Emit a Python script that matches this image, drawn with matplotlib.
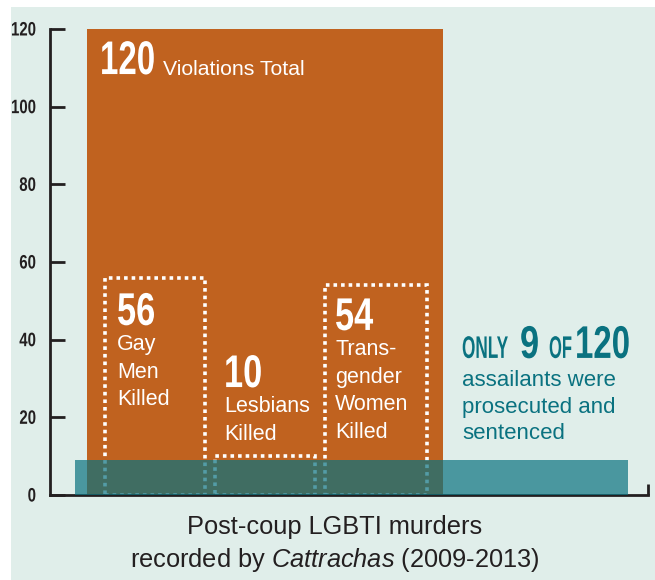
import matplotlib.pyplot as plt
from matplotlib.patches import Rectangle
from matplotlib.patheffects import AbstractPathEffect
from matplotlib.text import Text
from matplotlib.transforms import Affine2D, Bbox

# values
total = 120
sentenced = 9
groups = ['Gay\nMen\nKilled', 'Lesbians\nKilled', 'Trans-\ngender\nWomen\nKilled']
killed = [56, 10, 54]
yticks = [0, 20, 40, 60, 80, 100, 120]

orange = '#c0621f'
teal = '#0a7280'
mint = '#e0eeea'
dark = '#231f20'
plt.rcParams['mathtext.fontset'] = 'custom'
plt.rcParams['mathtext.rm'] = 'Liberation Sans'
plt.rcParams['mathtext.it'] = 'Liberation Sans:italic'
bold = dict(family=['Liberation Sans', 'DejaVu Sans'], fontweight='bold')
plain = dict(family=['Liberation Sans', 'DejaVu Sans'])


class Squeeze(AbstractPathEffect):
    # narrow the glyphs horizontally (no condensed font installed)
    def __init__(self, sx, anchor='left'):
        super().__init__()
        self.sx = sx
        self.anchor = anchor

    def draw_path(self, renderer, gc, tpath, affine, rgbFace=None):
        x0 = tpath.get_extents().x1 if self.anchor == 'right' else 0
        t = Affine2D().translate(-x0, 0).scale(self.sx, 1).translate(x0, 0) + affine
        renderer.draw_path(gc, tpath, t, rgbFace)


class Narrow(Text):
    # left-aligned text drawn condensed, with an extent that matches the ink
    def __init__(self, x, y, s, sx=0.7, **kw):
        super().__init__(x, y, s, **kw)
        self.sx = sx
        self.set_path_effects([Squeeze(sx)])

    def get_window_extent(self, renderer=None, dpi=None):
        bb = super().get_window_extent(renderer, dpi)
        return Bbox([[bb.x0, bb.y0], [bb.x0 + bb.width * self.sx, bb.y1]])


def narrow(ax, x, y, s, sx, **kw):
    t = Narrow(x, y, s, sx=sx, va='baseline', **bold, **kw)
    ax._add_text(t)
    return t


fig = plt.figure(figsize=(6.55, 5.8), dpi=100, facecolor='white')
fig.patches.append(Rectangle((11/655, 0), 1, 573/580, transform=fig.transFigure,
                             facecolor=mint, edgecolor='none', zorder=-5))
ax = fig.add_axes([50/655, 85/580, 598/655, 466/580])
ax.set_facecolor('none')

# x runs in pixel-like units across the axis (0..598)
ax.bar(215, total, width=356, color=orange, zorder=1)
centres = [105, 215, 326]
widths = [100, 100, 102]
ax.bar(centres, killed, width=widths, fill=False, edgecolor='white', linewidth=2.6,
       linestyle=(0, (1, 1.1)), zorder=2)
ax.bar(301.5, sentenced, width=553, color=teal, alpha=0.7, zorder=3)

ax.set_xlim(0, 598)
ax.set_ylim(0, 120)
ax.set_yticks(yticks)
ax.set_xticks([598])
ax.set_xticklabels([''])
ax.tick_params(axis='y', direction='in', length=11, width=2, color=dark, pad=10,
               labelsize=14, labelcolor=dark)
ax.tick_params(axis='x', direction='in', length=8, width=2, color=dark)
for lab in ax.get_yticklabels():
    lab.set(**bold)
    lab.set_path_effects([Squeeze(0.77, 'right')])
for s in ['top', 'right']:
    ax.spines[s].set_visible(False)
for s in ['left', 'bottom']:
    ax.spines[s].set_linewidth(2)
    ax.spines[s].set_color(dark)

# total label
narrow(ax, 50, 108.4, str(total), 0.7, color='white', fontsize=34)
ax.text(113, 108.2, 'Violations Total', color='white', fontsize=15.3, va='baseline', **plain)

# group labels
num_y = [43.8, 27.8, 42.5]
num_x = [67, 174, 285]
for x, y, n, g in zip(num_x, num_y, killed, groups):
    narrow(ax, x, y, str(n), 0.75, color='white', fontsize=33)
    ax.text(x, y - 2.3, g, color='white', fontsize=15.5, va='top', linespacing=1.42, **plain)

# callout
narrow(ax, 412, 35.3, 'ONLY', 0.55, color=teal, fontsize=22.5)
narrow(ax, 470, 35.3, str(sentenced), 0.75, color=teal, fontsize=33)
narrow(ax, 499, 35.3, 'OF', 0.53, color=teal, fontsize=22.5)
narrow(ax, 525, 35.3, str(total), 0.72, color=teal, fontsize=33)
ax.text(412, 32.2, 'assailants were\nprosecuted and\nsentenced', color=teal, fontsize=16,
        va='top', linespacing=1.35, **plain)

# caption
fig.text(335/655, 1 - 527/580, 'Post-coup LGBTI murders', ha='center', va='center',
         fontsize=18.3, color=dark, **plain)
fig.text(335/655, 1 - 560/580, 'recorded by $\\it{Cattrachas}$ (2009-2013)', ha='center',
         va='center', fontsize=18.3, color=dark, **plain)

fig.savefig('out.png', dpi=100, facecolor='white')
